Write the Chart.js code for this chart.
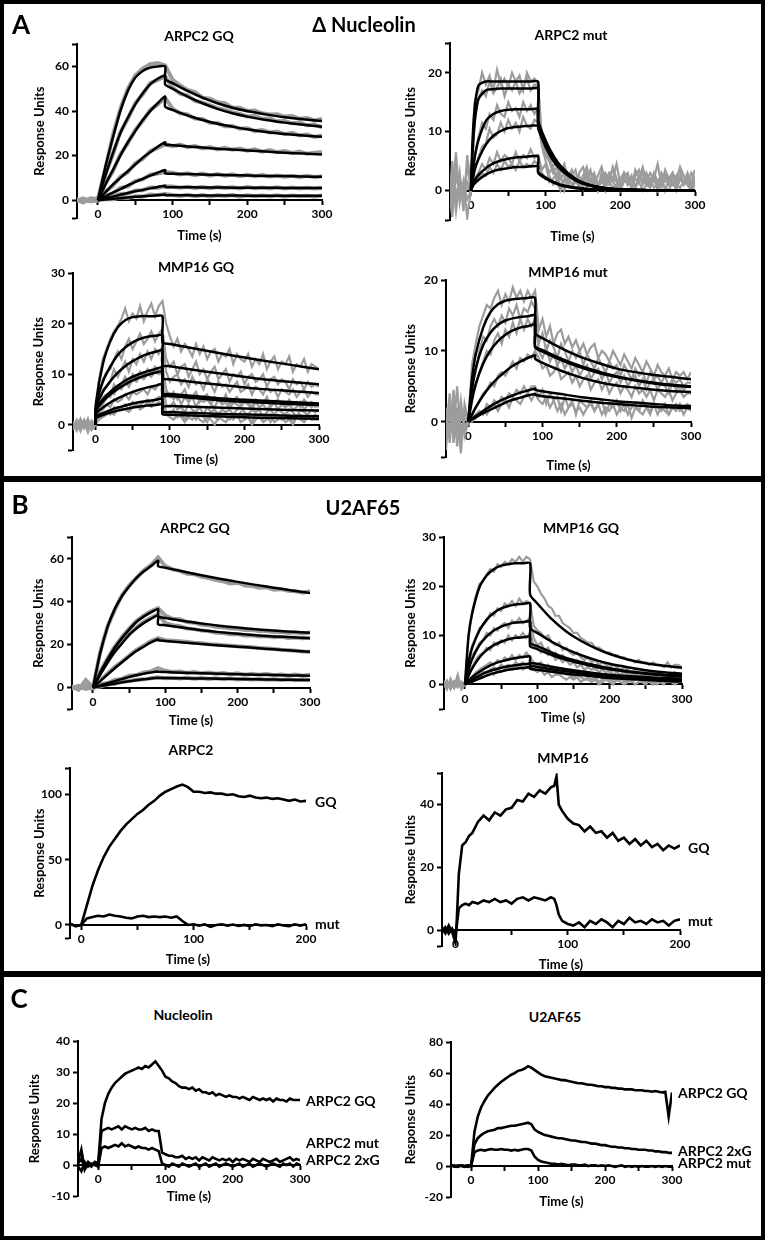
<!DOCTYPE html>
<html>
<head>
<meta charset="utf-8">
<script src="https://cdn.jsdelivr.net/npm/chart.js@4.4.0/dist/chart.umd.min.js"></script>
<style>
  body { margin: 0; background: #fff; }
  #fig { position: relative; width: 765px; height: 1240px; overflow: hidden; font-family: Lato, sans-serif; }
  .frame { position: absolute; left: 0; top: 0; width: 765px; height: 1240px; box-sizing: border-box; border: 4px solid #000; }
  .sep { position: absolute; left: 0; width: 765px; height: 6px; background: #000; }
  .lbl { position: absolute; font-weight: 700; color: #000; white-space: nowrap; line-height: 1; transform: translate(-50%, -50%); }
  canvas { position: absolute; }
</style>
</head>
<body>
<div id="fig">
  <div class="frame"></div>
  <div class="sep" style="top:476px"></div>
  <div class="sep" style="top:971px"></div>
</div>
<script>
// ---- data -------------------------------------------------------------
// sampling grids (s)
const t10 = [-30,-20,-10,0,10,20,30,40,50,60,70,80,90,100,110,120,130,140,150,160,170,180,190,200,210,220,230,240,250,260,270,280,290,300];
const t5 = [-30,-25,-20,-15,-10,-5,0,5,10,15,20,25,30,35,40,45,50,55,60,65,70,75,80,85,90,95,100,105,110,115,120,125,130,135,140,145,150,155,160,165,170,175,180,185,190,195,200,205,210,215,220,225,230,235,240,245,250,255,260,265,270,275,280,285,290,295,300];

// A  ΔNucleolin - ARPC2 GQ
const a1FitT = [0,10,20,30,40,50,60,70,80,90,90,100,120,140,160,180,200,225,250,275,300];
const a1Fit = [
  [0,15,28,40,49,55,58,59.5,60,60, 54.5,52.5,49,46,43.5,41.5,40,38.5,37.2,36.3,35.5],
  [0,11,21,30,37,43,48,52,54.5,56, 52,50,46.5,43.5,41,39,37.5,36,34.8,33.8,33],
  [0,7,13.5,20,26,31,36,40,43.5,46.5, 42,40.5,38,36,34.3,33,31.8,30.6,29.7,29,28.5],
  [0,3.5,7,10,13,16,19,21.5,24,26, 25,24.7,24.1,23.6,23.1,22.7,22.3,21.8,21.3,20.9,20.5],
  [0,1.7,3.4,5,6.6,8.2,9.6,11,12.3,13.5, 12,11.9,11.7,11.5,11.4,11.2,11.1,10.9,10.8,10.6,10.5],
  [0,0.8,1.6,2.4,3.2,4,4.6,5.3,5.9,6.5, 5.9,5.8,5.8,5.7,5.7,5.6,5.6,5.6,5.5,5.5,5.5],
  [0,0.3,0.6,0.9,1.2,1.5,1.8,2,2.3,2.5, 2.2,2.2,2.2,2.1,2.1,2.1,2,2,2,2,2]
];
const a1Grey = [
  [0.5,-1,0.8, 0.5,14,29,41,50,56,59,61,61.5,60.5, 54,51.5,49.5,48.5,46,45.5,44,43.5,41.5,41.5,40,40.2,39,38.5,38.6,37.5,37.8,36.5,36.9,35.8,36.5],
  [-0.5,0.8,-0.6, 0.3,11.5,20.5,30.5,36.5,43.5,47.5,52.5,54,55.5, 50.5,47.8,47,44.6,43.8,42.7,41.3,40.6,39.4,38.7,37.6,37.8,36.5,36.6,35.4,35.5,34.5,34.8,33.6,33.9,32.8],
  [0.3,-0.4,0.6, 0.2,7.5,13,20.5,25.5,31.5,35.5,40.5,43,46, 41,39,38.5,36.6,36.4,34.7,34.6,33.2,33.3,32.1,32.3,31,31.5,30.4,30.8,29.6,30.2,29,29.5,28.4,29],
  [-0.3,0.5,-0.2, 0,3.8,6.5,10.5,12.5,16.5,18.5,22,23.5,25, 24.2,24.9,23.8,24.3,23.2,23.8,22.8,23.5,22.6,23.2,22.2,22.8,21.8,22.5,21.5,22,21.2,21.8,20.8,21.3,21.5],
  [0.4,-0.5,0.2, 0.1,2,3,5.5,6.2,8.6,9.3,11.4,12,12.6, 12.3,11.5,12.1,11.2,11.9,11,11.7,11,11.6,10.8,11.4,10.7,11.3,10.6,11.1,10.5,11,10.4,10.9,10.3,10.8],
  [-0.2,0.3,-0.4, 0,1.1,1.4,2.8,3,4.4,4.5,5.7,5.6,6.2, 6.1,5.6,6,5.5,5.9,5.4,5.9,5.5,5.8,5.3,5.9,5.4,5.7,5.3,5.8,5.2,5.7,5.3,5.6,5.2,5.6],
  [0.2,-0.3,0.3, 0,0.5,0.4,1.2,1,1.8,1.6,2.5,2.2,2.8, 2.3,1.9,2.4,1.8,2.3,1.7,2.2,1.9,2.3,1.6,2.2,1.8,2.1,1.7,2.2,1.6,2.1,1.8,2,1.6,2.1]
];

// A  ΔNucleolin - ARPC2 mut
const a2FitT = [0,2,5,10,20,30,40,50,60,70,80,90,90,100,110,120,140,160,180,200,250,300];
const a2Fit = [
  [0,8,14,17.8,18.5,18.5,18.5,18.5,18.5,18.5,18.5,18.5, 12,8.5,6,4.2,2,0.9,0.4,0.2,0,0],
  [0,6,11.5,15.5,17,17.2,17.3,17.3,17.3,17.3,17.3,17.3, 11.5,8.1,5.7,4,1.9,0.9,0.4,0.2,0,0],
  [0,2.5,5.5,8.5,11.8,13,13.5,13.7,13.8,13.8,13.8,13.8, 11,7.8,5.4,3.8,1.8,0.8,0.4,0.2,0,0],
  [0,1.5,3.5,5.3,7.8,9.3,10.1,10.6,10.8,10.9,11,11, 10.5,7.4,5.1,3.6,1.7,0.8,0.4,0.2,0,0],
  [0,0.8,1.7,2.6,3.8,4.6,5.1,5.4,5.6,5.7,5.8,5.8, 3.2,2.2,1.5,1,0.5,0.2,0.1,0,0,0],
  [0,0.6,1.2,1.8,2.7,3.3,3.6,3.8,4,4,4.1,4.1, 3,2,1.4,0.9,0.4,0.2,0.1,0,0,0]
];
const a2Grey = [
  [-4,5,-2,3,-3.5,6,1,
   15,17,20,18,19.5,17,20.5,18,19,17.5,20,18.5,19.5,17,20,18.5,19,18,
   9,7,5.5,4,5,3,4.5,2,3.5,1.5, 3,4,2,3.5,1,2.5,4,1.5,3,2, 4.5,1,3,2.5,0.5,3.5,2,4,1.5,3, 2,4.5,1,3.5,2,3,1.5,4,2.5,1, 3,2],
  [2,-1,6.5,-2,1.5,-4.5,0,
   12,15.5,17,16,18.5,16.5,17.5,19,16,18,17,18.5,16.5,17.5,19,17,18,17.5,
   8.5,6,5,3.5,2,4,2.5,1,3,2, 0.5,2.5,4,1.5,3,1,2,0,2.5,3.5, 1.5,0.5,3,2,1,2.5,3.5,1,2,0.5, 3,1.5,2.5,0,2,3,1,2.5,1.5,3, 1,2],
  [-1.5,3,-3.5,2,-1,4,0.5,
   6,9,11.5,10.5,13,12,14.5,13,12.5,15,13.5,14,12.5,15,13.5,14.5,13,14,
   8,6,5,3,4,2,3,1,2.5,3.5, 0.5,2,1,3,2.5,0,2,3,1.5,4, 2,1,2.5,3,0.5,2,1.5,3,1,2, 2.5,0.5,3,1.5,2,1,2.5,3.5,1,2, 1.5,3.5],
  [0.5,-2,2.5,-0.5,1,-1.5,0,
   3.5,5.5,7.5,8,10.5,9,9.5,11.5,10,12,10.5,11.5,10,12.5,11,10.5,12,11.5,
   7.5,5,3,4,1.5,2.5,0,2,3,1.5, 2.5,0.5,3.5,1.5,2,0.5,3,1,2.5,1.5, 0.5,2,3,1,2,0.5,2.5,1.5,3,1, 2,0,1.5,3,1,2.5,0.5,2,1.5,2.5, 0.5,2],
  [1,-4.5,3,0.5,-2,1.5,0,
   2,3,4.5,3.5,5.5,4.5,6.5,5,6,5.5,4.5,6.5,5,6,5.5,7,5.5,6,
   3.5,4.5,1.5,2,3,0.5,1.5,2.5,1,2, 0.5,1.5,3,1,2,0.5,1.5,2.5,1,2, 1.5,0,2,1,2.5,0.5,1.5,2,1,0.5, 2,1.5,0.5,2.5,1,1.5,0,2,1,1.5, 0.5,1.5],
  [-2.5,1.5,-1,2,-0.5,0.5,0,
   1.5,2,3,2.5,4,3,4.5,3.5,5,4,4.5,3.5,5,4,4.5,4,5,4.5,
   3,2,2.5,1,1.5,0,2,1,0.5,1.5, 1,2,0.5,1.5,1,0,2,1,1.5,0.5, 1,0,1.5,2,0.5,1,1.5,0,1,2, 0.5,1,1.5,0.5,0,1.5,1,0.5,1.5,1, 0,1]
];

// A  ΔNucleolin - MMP16 GQ
const a3FitT = [0,1,10,20,30,40,50,60,70,80,90,90,100,140,180,220,260,300];
const a3Fit = [
  [0,4.5,12,16.5,19.3,20.7,21.3,21.5,21.5,21.5,21.5, 16.3,16,14.9,13.8,12.8,11.9,11],
  [0,4,8.5,11.5,13.8,15.3,16.3,17,17.4,17.6,17.7, 11.8,11.6,10.7,9.9,9.1,8.5,8],
  [0,3.5,6.5,8.6,10.3,11.6,12.6,13.4,14,14.4,14.7, 9.2,9,8.3,7.7,7.1,6.7,6.3],
  [0,3,5,6.5,7.7,8.7,9.5,10.1,10.6,11,11.3, 6.2,6.1,5.6,5.1,4.8,4.5,4.2],
  [0,2.8,4.6,6,7.1,8,8.8,9.4,9.9,10.3,10.5, 5.8,5.7,5.2,4.7,4.4,4.1,3.9],
  [0,2.2,3.4,4.4,5.2,5.9,6.5,7,7.4,7.7,8, 3.8,3.7,3.5,3.3,3.1,2.9,2.8],
  [0,1.6,2.3,2.9,3.4,3.8,4.2,4.5,4.7,4.9,5.1, 2.6,2.5,2.3,2.1,2,1.8,1.7],
  [0,1.3,1.9,2.4,2.8,3.1,3.4,3.6,3.8,3.9,4, 2.1,2,1.8,1.6,1.4,1.3,1.2]
];
const a3Grey = [
  [0.5,-0.8,1,-0.5,1.2,-1,0,
   9,13,15,17,18.5,19.5,21,23,20.5,22,21,23.5,20.5,22.5,24,21.5,23.5,24.5,
   20,17.5,15.5,17,14.5,16,15,13.5,16,14, 15.5,13,14.5,15,12.5,14,13.5,15,12,14, 13,12.5,14,11.5,13,12,14,11,12.5,13.5, 11,12.5,12,13.5,10.5,12,11.5,13,10.5,12, 11.5,11],
  [-0.5,1,-1,0.5,-1.5,0.8,0,
   6,9,10.5,11,13,14.5,13,15.5,17,15,16.5,18,16,17,18.5,16.5,18,19,
   13,11.5,12.5,10,11.5,12,9.5,11,12.5,10, 11,9,10.5,11.5,9,10,11,8.5,10,9.5, 10.5,8,9.5,10,8.5,9,10,7.5,9,9.5, 8,9,8.5,7,9,8,8.5,7,8.5,7.5, 8,7.5],
  [0.3,-1.2,0.6,-0.3,0.9,-0.6,0,
   5,7,7.5,8.5,11,9.5,11,12.5,10.5,13,12,14,12.5,14.5,13,15,14,15.5,
   10.5,8.5,9.5,10,8,9,7.5,9.5,8,8.5, 7,9,8,6.5,8.5,7.5,8,6.5,7.5,8.5, 6.5,7,8,6,7.5,7,6,7.5,6.5,7, 5.5,7,6.5,6,7,5.5,6.5,7,5.5,6.5, 6,6],
  [-1,0.8,-0.4,1,-0.8,0.5,0,
   4,5.5,6,5.5,8,7,8,9.5,8,10,9,10.5,9.5,11,10,11.5,10.5,11.5,
   7,5.5,6.5,5,6,7,4.5,5.5,6.5,4.5, 5.5,6,4,5.5,5,4.5,6,4,5,5.5, 4,5,4.5,3.5,5,4.5,4,5.5,3.5,4.5, 5,4,3.5,5,4,4.5,3.5,5,4,4.5, 3.5,4],
  [0.6,-0.3,1.2,-0.7,0.4,-1,0,
   3.5,4,5.5,6.5,6,7.5,7,8.5,7.5,9,8.5,9.5,9,10,9.5,10.5,10,10.5,
   6.5,6,5,6,4,5.5,4.5,5.5,3.5,5, 4.5,5,4,3.5,5,4,4.5,3,4.5,4, 3.5,4.5,4,3,4.5,3.5,4,3,4,4.5, 3,4,3.5,4,3,3.5,4.5,3,4,3.5, 4,3.5],
  [-0.6,0.4,-1.3,0.8,-0.2,0.6,0,
   2.5,3,4,3.5,5,4.5,5,6,5,6.5,6,6.5,7,6,7.5,7,8,8,
   4,3.5,4.5,3,3.5,2.5,4,3,2.5,3.5, 2,3.5,2.5,3,2,3,2.5,3,2,3, 3.5,2.5,2,3,2.5,3,1.5,2.5,3,2, 3,2.5,2,3,2.5,1.5,3,2.5,2,3, 2.5,3],
  [0.2,-0.6,0.5,-0.4,0.7,-0.2,0,
   1.5,2,2.5,2,3.5,3,3.5,4,3,4.5,3.5,4,4.5,5,4,5,5.5,5.5,
   2.5,2,3,1.5,2.5,1,2,2.5,1,2, 1.5,0.5,2,1.5,1,2,1.5,1,2,1.5, 2.5,1,1.5,0.5,2,1.5,1,2,0.5,1.5, 2,1,1.5,2,0.5,1.5,2,1,1.5,1, 2,1.5],
  [-0.4,0.7,-0.2,0.5,-0.8,0.3,0,
   1,1.5,2,2.5,2,3,3.5,3,2.5,3.5,4,3,3.5,4.5,3.5,4,4.5,4,
   2,1.5,1,2,1.5,0.5,1.5,1,2,1, 0.5,1.5,1,0,1.5,1,0.5,1.5,1,2, 0.5,1,1.5,0,1,1.5,0.5,1,2,0.5, 1,1.5,0.5,1,0,1.5,1,0.5,1.5,1, 1,1]
];

// A  ΔNucleolin - MMP16 mut
const a4FitT = [0,5,10,20,30,40,50,60,70,80,90,90,100,125,150,175,200,225,250,275,300];
const a4Fit = [
  [0,6,9.5,13.3,15.5,16.6,17.1,17.3,17.4,17.5,17.5, 12.5,11.8,10.4,9.2,8.3,7.5,7,6.6,6.3,6],
  [0,4.5,7.5,10.8,12.6,13.7,14.3,14.6,14.8,14.9,15, 10.7,10.1,8.9,7.9,7.1,6.4,5.9,5.5,5.2,5],
  [0,3,5.3,8.2,10.1,11.4,12.3,12.9,13.3,13.5,13.7, 10.5,9.9,8.7,7.7,6.9,6.3,5.8,5.4,5.1,4.9],
  [0,1,2,3.7,5.1,6.2,7.1,7.9,8.5,9,9.4, 8.9,8.3,7.2,6.3,5.6,5.1,4.8,4.5,4.3,4.2],
  [0,0.4,0.8,1.5,2.2,2.8,3.3,3.7,4.1,4.4,4.7, 4.5,4.3,3.9,3.5,3.2,2.9,2.7,2.5,2.3,2.2],
  [0,0.3,0.6,1.2,1.7,2.2,2.7,3.1,3.4,3.7,3.9, 3.8,3.6,3.3,3,2.7,2.5,2.3,2.1,2,1.9]
];
const a4Grey = [
  [2,-3,4.5,-1,3,-2,0,
   8,11,13.5,15,16.5,16,17.5,18.5,16.5,18,17,19,17.5,18.5,17,18.5,17.5,18.5,
   13,14.5,12,13.5,11,12.5,13,11,12,10.5, 11.5,10,11,9.5,10.5,11,9,10,9.5,8.5, 10,9,8,9.5,8.5,7.5,9,8,7,8.5, 7.5,6.5,8,7,6.5,7.5,6,7,6.5,7, 6,7],
  [-4,3,-1.5,5,-2.5,1.5,0,
   5,7,10,12,11.5,13.5,14.5,13.5,15,14,16,15,16.5,14.5,16,15.5,17,16,
   11,12.5,10,11.5,10.5,9,11,10,8.5,10, 9,10,8,9.5,8.5,7.5,9,8,7,8.5, 7.5,8,6.5,8,7,6,7.5,6.5,7,5.5, 7,6,6.5,5.5,6.5,5,6,5.5,6,5, 5.5,5.5],
  [1,-2,2.5,-3.5,1.5,-1,0,
   3.5,5,7,8.5,10,9.5,11.5,12.5,11,13,12,14,12.5,14.5,13,14.5,13.5,14.5,
   10,9,10.5,8.5,9.5,8,9,7.5,8.5,7, 8,6.5,7.5,8,6,7,7.5,6,7,5.5, 6.5,7,5.5,6.5,5,6,6.5,5,6,4.5, 5.5,6,4.5,5.5,5,4,5.5,4.5,5,4.5, 5,5],
  [-1.5,4,-3,2,-4.5,2.5,0,
   1,2,3,4,4.5,5.5,5,6.5,7,6.5,7.5,8.5,7.5,9,8.5,9.5,9,10,
   9,7.5,8,6.5,7,8,6,6.5,7,5.5, 6.5,5,6,6.5,4.5,5.5,6,4.5,5.5,4, 5,5.5,4,5,4.5,3.5,5,4,4.5,3.5, 4.5,3,4.5,4,3.5,4.5,3,4,4.5,3.5, 4,4],
  [0.5,-1,1.5,-2,1,-0.5,0,
   0.5,1,1.5,1,2.5,2,3,2.5,3.5,3,4,3.5,4.5,4,5,4,5,5,
   3.5,4.5,2.5,4,3,3.5,1.5,3.5,2,3, 1,3,2.5,2,3,1.5,2.5,3,1,2.5, 2,3,1.5,2.5,1,2,2.5,1.5,3,2, 1,2.5,2,1.5,2.5,1,2,2.5,1.5,2, 2.5,2],
  [-2,1,-0.5,1.5,-1,0.5,0,
   0,0.5,1,1.5,1,2,2.5,1.5,2.5,3,2,3.5,3,2.5,3.5,4,3,4,
   3,2.5,3.5,2,3,1.5,2.5,1,2,2.5, 1.5,2,1,2,2.5,1.5,2.5,1,2,1.5, 2.5,1,2,1.5,2.5,0.5,2,1.5,1,2, 1.5,2.5,1,2,1.5,1,2,1.5,2.5,1, 2,1.5]
];

// B  U2AF65 - ARPC2 GQ
const b1FitT = [0,10,20,30,40,50,60,70,80,90,90,100,125,150,175,200,225,250,275,300];
const b1Fit = [
  [0,16,28,36.5,42.5,47,51,54,56.5,59, 56.5,55.8,54,52.3,50.7,49.2,47.8,46.5,45.2,44],
  [0,7,13,18.5,23,27,30.5,33,35,36.5, 33,32.4,31,29.8,28.8,27.9,27.1,26.5,26,25.5],
  [0,6,11.5,16.5,20.5,24.5,27.5,30,32,33.5, 29.5,29,27.8,26.7,25.8,25,24.3,23.8,23.4,23],
  [0,3,6,9,11.8,14.5,17,19,21,22.5, 22,21.7,21,20.3,19.6,19,18.4,17.8,17.2,16.6],
  [0,1,2,3,4,4.9,5.7,6.4,7,7.5, 7.3,7.2,6.9,6.6,6.4,6.2,6,5.8,5.6,5.5],
  [0,0.6,1.2,1.8,2.4,2.9,3.4,3.8,4.2,4.5, 4.4,4.4,4.3,4.2,4.1,4,3.8,3.7,3.6,3.5]
];
const b1Grey = [
  [0.5,-1,3.5, 0,16.5,28.5,36,43,47.5,51,54.5,57,60.5, 56.5,55,54.3,53,52.8,51.5,51,50,49.5,48.5,48.8,47.5,47.3,46.5,46.7,45.5,45.8,45,44.8,44.2,44.8],
  [-0.5,0.8,-0.3, 0,7.5,13.5,19,23.5,27.5,31,33.5,35.5,37, 33.5,32,31.8,30.5,30.2,29.2,29,28.3,28,27.5,27.4,26.8,26.9,26.2,26.4,25.8,26,25.4,25.7,25.2,25.6],
  [0.3,-0.6,0.8, 0,6.5,12,17,21,25,28,30.5,32.5,34, 30,29,28.5,27.5,27.2,26.5,26.3,25.5,25.4,24.8,24.9,24.2,24.3,23.8,24,23.4,23.6,23.1,23.3,22.9,23.2],
  [-0.2,0.4,-0.5, 0,3.2,6.5,9.5,12,14.8,17.5,19.5,21.5,23, 22,21.8,21.5,21.2,20.8,20.6,20.2,20,19.7,19.5,19.2,19,18.7,18.4,18.2,17.9,17.6,17.4,17.1,16.8,16.7],
  [0.4,-0.3,0.2, 0,1.5,2,3.5,4,5.5,5.8,7,7.5,9, 7.8,7.2,7.5,6.8,7.2,6.6,7,6.4,6.8,6.2,6.6,6,6.4,5.9,6.3,5.7,6.1,5.6,6,5.5,5.9],
  [-0.3,0.2,-0.4, 0,0.5,1.5,1.8,2.6,3,3.6,3.8,4.3,4.8, 4.3,4.6,4.2,4.5,4.1,4.4,4,4.3,3.9,4.2,3.8,4.1,3.7,4,3.6,3.9,3.5,3.8,3.4,3.7,3.5]
];

// B  U2AF65 - MMP16 GQ
const b2FitT = [0,5,10,20,30,40,50,60,70,80,90,90,100,120,140,160,180,200,225,250,275,300];
const b2Fit = [
  [0,10,14.5,19.8,22.2,23.5,24.2,24.5,24.7,24.7,24.7, 18.3,16.5,13.3,10.8,8.9,7.4,6.2,5.1,4.3,3.8,3.4],
  [0,4.5,7.5,11,13.2,14.6,15.5,16,16.3,16.4,16.5, 11.5,10.5,8.7,7.2,6,5,4.2,3.5,2.9,2.5,2.2],
  [0,3,5.2,8,9.8,11,11.8,12.3,12.6,12.7,12.8, 8.5,7.8,6.5,5.4,4.6,3.9,3.3,2.7,2.3,2,1.8],
  [0,1.8,3.3,5.5,7,8,8.7,9.2,9.5,9.6,9.7, 7.8,7.2,6,5,4.3,3.6,3.1,2.6,2.2,1.9,1.7],
  [0,0.8,1.5,2.6,3.5,4.2,4.7,5.1,5.4,5.6,5.7, 4.5,4.2,3.6,3.1,2.7,2.3,2,1.7,1.5,1.3,1.2],
  [0,0.5,1,1.8,2.5,3,3.4,3.7,3.9,4.1,4.2, 3.8,3.6,3.1,2.7,2.3,2,1.7,1.4,1.2,1,0.9],
  [0,0.3,0.6,1.2,1.8,2.3,2.7,3,3.2,3.4,3.5, 3.2,3,2.6,2.2,1.9,1.6,1.3,1.1,0.9,0.7,0.6]
];
const b2Grey = [
  [0.5,-1,1.2,-0.5,2,-1,0,
   10,15,18,20.5,21,22.5,23.5,23,24.5,24,25,24.5,25.5,25,26,25,26,25.5,
   21,20,18.5,17.5,16,15.5,14,14,12.5,12, 11.5,10.5,10.5,9.5,9,8.5,8.5,7.5,7.5,7, 6.5,6.5,6,6,5.5,5.5,5,5,4.5,5, 4.5,4.5,4,4.5,4,4,3.5,4.5,3.5,4, 4,3.5],
  [-0.5,0.8,-1,0.5,-0.3,0.6,0,
   5,8,9.5,11.5,12,13,14.5,14,15.5,15,16.5,16,17,16,17.5,16.5,17,16.5,
   12,11,10.5,9.5,10,8.5,8,8.5,7,7.5, 6.5,6,6.5,5.5,5,5.5,4.5,5,4,4.5, 4,3.5,4,3.5,3,3.5,3,2.5,3,2.5, 3,2.5,2,2.5,2,2.5,2,1.5,2,2.5, 2,2],
  [0.8,-0.5,0.3,-0.8,0.5,-0.2,0,
   3.5,6,7,8.5,9,10.5,10,11.5,11,12,12.5,11.5,13,12.5,13.5,12.5,13,13.5,
   9.5,8,8.5,7,7.5,6,6.5,5.5,6,5, 5,4.5,5,4,4.5,3.5,4,3,3.5,3, 3.5,2.5,3,2.5,3,2,2.5,2,2.5,1.5, 2.5,2,1.5,2,1.5,2,1.5,1,2,1.5, 2,1.5],
  [-0.3,0.5,-0.8,0.4,-0.6,0.3,0,
   2,3.5,5,6,6.5,7.5,7,8.5,8,9,8.5,10,9,10,9.5,10.5,9.5,10.5,
   8,7.5,6.5,7,6,6.5,5,5.5,4.5,5, 4,4.5,3.5,4,3,3.5,3,3.5,2.5,3, 2.5,3,2,2.5,2,2.5,2,1.5,2,1.5, 2,1.5,2,1,1.5,2,1.5,1,1.5,2, 1.5,2],
  [0.3,-0.8,0.6,-0.4,1,-0.5,0,
   1,1.5,2.5,3,3.5,4,4.5,4,5,4.5,5.5,5,6,5,6,5.5,6.5,5.5,
   4.5,4,4.5,3.5,4,3,3.5,2.5,3,2.5, 3,2,2.5,2,2.5,1.5,2,1.5,2,1, 1.5,2,1,1.5,1,1.5,0.5,1.5,1,1.5, 1,0.5,1.5,1,0.5,1,1.5,0.5,1,1, 1.5,1],
  [-0.6,0.4,-0.2,0.7,-0.4,0.2,0,
   0.5,1,1.5,2,2.5,2.5,3,3.5,3,4,3.5,4,3.5,4.5,4,4.5,4,4.5,
   4,3.5,3,3.5,2.5,3,2.5,2,2.5,2, 2,1.5,2,1.5,1,1.5,1,1.5,0.5,1, 1.5,1,0.5,1,1.5,0.5,1,0.5,1,1.5, 0.5,1,0.5,0,1,0.5,1,0.5,1,0.5, 1,0.5],
  [0.2,-0.3,0.7,-0.5,0.4,-0.1,0,
   0.3,0.5,1,1.5,1.5,2,2.5,2,3,2.5,3,3.5,3,3.5,4,3,3.5,3.5,
   3,2.5,3,2,2.5,1.5,2,2,1.5,1, 1.5,1,1.5,0.5,1,1,0.5,1,0,0.5, 1,0.5,0,1,0.5,0,0.5,1,0,0.5, 0.5,0,1,0.5,0,0.5,0,1,0.5,0, 0.5,0.5]
];

// B  U2AF65 - ARPC2 (GQ vs mut)
const b3T = [-10,-5,0,5,10,15,20,25,30,35,40,45,50,55,60,65,70,75,80,85,90,95,100,105,110,115,120,125,130,135,140,145,150,155,160,165,170,175,180,185,190,195,200];
const b3GQ = [1,-1,0, 15,30,42,52,60,66,72,77,81,85,88,92,95,99,102,104,106,107.5, 105.5,102,102,101,101.5,100.5,100.5,99.5,100,98.5,98,99,97.5,97,97.5,96.5,97,96,95,96,94.5,95];
const b3Mut = [1,-1,0, 5,6,7,6.5,8,7,6.5,5.5,5,6.5,7,6,6.5,6,6.5,5.5,6.5,3, 0,0.5,-0.5,0.5,-1.5,0,0.5,-0.5,0.3,-0.8,0,-1,0.5,-0.3,0,-1,0.5,-0.5,-1,0.5,-0.5,0.5];

// B  U2AF65 - MMP16 (GQ vs mut)
const b4T = [-12,-9,-6,-3,0,1,3,6,9,12,15,20,25,30,35,40,45,50,55,60,65,70,75,80,85,88,90,92,95,100,105,110,115,120,125,130,135,140,145,150,155,160,165,170,175,180,185,190,195,200];
const b4GQ = [0.5,-1,1.5,-0.5, -4,2,18,27,28,30,31, 34.5,36.5,35,37.5,36.5,38.5,39,41.5,41,43.5,42.5,44.5,43.5,45.5, 46,49,40,38, 35.5,34,33.5,31.5,33,31,31.5,29.5,31,28.5,29.5,27.5,29,27,28.5,26.5,27.5,25.5,27,26,27];
const b4Mut = [0,1,-1,0.5, -2,1,7,8,8.5,8,9, 8.5,9.5,9,10,9,9.5,8.5,10,10.5,9.5,10.5,10,9.5,10.5, 10,8,5,3, 2,1.5,2.5,1,3,2,3.5,2.5,1,3,2,4,2.5,3,2,3.5,2.5,3,1.5,3,3.5];

// C  Nucleolin / U2AF65 binding to ARPC2 variants (sampled on t5)
const c1GQ = [1,5,-1.5,0.5,-0.5,1,0.5,
  15,20,23,25,26.5,27.5,28.5,29.5,30,30.5, 31,31.5,31,32,31.5,32.5,33.5,32,30.5,28.5,
  28,27,26.5,25.5,25,25,24.5,25,24,24.5, 23.5,23.5,23,23.5,22.5,23,22.5,22,22.5,22,
  22,21.5,22,21.5,21,22,21.5,21,21.5,21, 21.5,20.5,21.5,21,21,20.5,21.5,21,21,21];
const c1Mut = [0.5,2,-1,1,0,0.5,0,
  11,11.5,12,11.5,12,12.5,11.5,12.5,12,11.5, 12,11.5,11.5,12,11,11.5,11,11,4,3.5,
  3,3,2.5,2.5,3,2,2.5,2,2.5,1.5, 2.5,2,1.5,2.5,2,1.5,2,1.5,2,1,
  2,1.5,2,1.5,1,2,1.5,1,2,1.5, 1,1.5,2,1,1.5,2,2.5,1.5,2,1.5];
const c1TwoXG = [-0.5,-2,1,-0.5,0.5,0,-0.5,
  5.5,6,5.5,6,6.5,6,7,6,6.5,6, 5.5,6,5.5,5.5,5,5.5,5,4.5,0.5,0,
  -0.5,0.5,0,-0.5,0.5,0,-0.5,0,0.5,-0.5, 0,0.5,-0.5,0,0.5,-0.5,0,0.5,0,-0.5,
  0,0.5,-0.5,0,0.5,-0.5,0,0.5,0,-0.5, 0,0.5,0,-0.5,0.5,0,0.5,-0.5,0.5,0];
const c2GQ = [0.5,-0.5,0.5,0,-0.5,0.5,0,
  22,32,38,42,45.5,48,50.5,52.5,54.5,56, 57.5,59,60,61.5,62,63,64.5,63.5,62,60.5,
  59,58,57.5,57,56.5,56,55.5,55.5,55,54.5, 54,53.5,53.5,53,52.5,52.5,52,51.5,51.5,51,
  51,50.5,50.5,50,50,49.5,49.5,49.5,49,49, 49,48.5,48.5,48,48.5,48,47.5,48,32,47.5];
const c2TwoXG = [0,0.5,-0.5,0.5,0,-0.5,0,
  14,18,20,21.5,22.5,23,23.5,24.5,24.5,25, 25.5,26,26,26.5,27,27.5,28,27,23.5,22,
  21,20,19.5,19,18.5,18,18,17.5,17,16.5, 16.5,16,15.5,15.5,15,14.5,14.5,14,13.5,13.5,
  13,12.5,12.5,12,12,11.5,11.5,11,11,10.5, 10.5,10.5,10,10,9.5,9.5,9,9,8.5,8.5];
const c2Mut = [0.5,0,-0.5,0.5,0,0.5,0,
  9,10,10.5,10,10.5,11,10.5,10.5,11,10.5, 10.5,10,10.5,10,10.5,11,11,10,6,4,
  3,2.5,2,1.5,1.5,1,1.5,1,0.5,1, 1,0.5,0.5,1,0,0.5,0.5,0,0.5,0,
  0.5,0,-0.5,0,0.5,-0.5,0,-0.5,0,-0.5, 0,-0.5,-0.5,0,-0.5,0,-0.5,0,-0.5,-0.5];

// ---- drawing ----------------------------------------------------------
Chart.defaults.font.family = 'Lato, sans-serif';
Chart.defaults.color = '#000';

const fig = document.getElementById('fig');
const tickFont = { size: 12, weight: 'bold' };
const axisFont = { size: 13, weight: 'bold' };

const pts = (t, v) => v.map((y, i) => ({ x: t[i], y }));
const fitSets = (t, list) => list.map(v => ({ data: pts(t, v), borderColor: '#000', borderWidth: 2.5, tension: 0.25, order: 1 }));
const greySets = (t, list, w) => list.map(v => ({ data: pts(t, v), borderColor: '#9c9c9c', borderWidth: w || 2.2, tension: 0, order: 2 }));
const traceSets = (t, list) => list.map(v => ({ data: pts(t, v), borderColor: '#000', borderWidth: 2.6, tension: 0, order: 1 }));

// text written next to the end of a trace
const endLabels = {
    id: 'endLabels',
    afterDatasetsDraw(chart, args, opts) {
        const ctx = chart.ctx;
        ctx.save();
        ctx.font = 'bold 14px Lato, sans-serif';
        ctx.fillStyle = '#000';
        ctx.textBaseline = 'middle';
        (opts.items || []).forEach(it => {
            const pts = chart.getDatasetMeta(it.ds).data;
            const p = pts[pts.length - 1];
            ctx.fillText(it.text, p.x + it.dx, p.y + it.dy);
        });
        ctx.restore();
    }
};

function panel(g, datasets, labels) {
    const padR = g.padR || 14;
    const L = Math.round(g.tx - 11.8);
    const T = g.top - 10;
    const W = g.right + padR - L;
    const H = g.bottom + 48 - T;
    const cv = document.createElement('canvas');
    cv.width = W; cv.height = H;
    cv.style.left = L + 'px'; cv.style.top = T + 'px';
    cv.style.width = W + 'px'; cv.style.height = H + 'px';
    fig.appendChild(cv);

    const xTicks = [];
    for (let v = 0; v <= g.x[1]; v += 50) xTicks.push(v);
    const yTicks = [...new Set([g.y[0], ...g.yTicks, g.y[1]])];

    new Chart(cv, {
        type: 'line',
        data: { datasets },
        options: {
            responsive: false,
            animation: false,
            events: [],
            layout: { padding: { top: 10, right: padR, bottom: 48, left: 0 } },
            elements: { point: { radius: 0 } },
            plugins: { legend: { display: false }, tooltip: { enabled: false }, endLabels: { items: labels || [] } },
            scales: {
                x: {
                    type: 'linear', min: g.x[0], max: g.x[1], position: { y: 0 },
                    border: { display: true, color: '#000', width: 2 },
                    grid: { drawOnChartArea: false, drawTicks: true, tickLength: 4, tickWidth: 2, color: '#000' },
                    afterBuildTicks: s => { s.ticks = xTicks.map(v => ({ value: v })); },
                    ticks: { font: tickFont, padding: 3, autoSkip: false, maxRotation: 0,
                             callback: v => (v % 100 === 0 ? v : '') },
                    title: { display: true, text: 'Time (s)', font: axisFont, padding: { top: g.tp, bottom: 0 } }
                },
                y: {
                    type: 'linear', min: g.y[0], max: g.y[1], position: 'left',
                    border: { display: true, color: '#000', width: 2 },
                    grid: { drawOnChartArea: false, drawTicks: true, tickLength: 5, tickWidth: 2, color: '#000' },
                    afterBuildTicks: s => { s.ticks = yTicks.map(v => ({ value: v })); },
                    afterFit: s => { s.width = g.ax - L; },
                    ticks: { font: tickFont, padding: 3, autoSkip: false,
                             callback: v => (g.yTicks.includes(v) ? v : '') },
                    title: { display: true, text: 'Response Units', font: axisFont, padding: { top: 4, bottom: 0 } }
                }
            }
        },
        plugins: [endLabels]
    });
}

panel({ ax: 77, tx: 40, top: 44, bottom: 218, right: 322, x: [-28, 300], y: [-8, 70], yTicks: [0, 20, 40, 60], tp: 3 },
      [...fitSets(a1FitT, a1Fit), ...greySets(t10, a1Grey, 4)]);
panel({ ax: 450, tx: 411, top: 43, bottom: 220, right: 695, x: [-28, 300], y: [-5, 25], yTicks: [0, 10, 20], tp: 14 },
      [...fitSets(a2FitT, a2Fit), ...greySets(t5, a2Grey)]);
panel({ ax: 73, tx: 39, top: 273, bottom: 450, right: 319, x: [-30, 300], y: [-5, 30], yTicks: [0, 10, 20, 30], tp: 3 },
      [...fitSets(a3FitT, a3Fit), ...greySets(t5, a3Grey)]);
panel({ ax: 446, tx: 411, top: 280, bottom: 457, right: 691, x: [-30, 300], y: [-5, 20], yTicks: [0, 10, 20], tp: 12 },
      [...fitSets(a4FitT, a4Fit), ...greySets(t5, a4Grey)]);
panel({ ax: 72, tx: 39, top: 537, bottom: 709, right: 310, x: [-29, 300], y: [-10, 70], yTicks: [0, 20, 40, 60], tp: 1 },
      [...fitSets(b1FitT, b1Fit), ...greySets(t10, b1Grey, 4)]);
panel({ ax: 444, tx: 411, top: 537, bottom: 709, right: 682, x: [-29, 300], y: [-5, 30], yTicks: [0, 10, 20, 30], tp: 1 },
      [...fitSets(b2FitT, b2Fit), ...greySets(t5, b2Grey)]);
panel({ ax: 70, tx: 40, top: 768, bottom: 938, right: 306, x: [-10, 200], y: [-10, 120], yTicks: [0, 50, 100], tp: 3, padR: 45 },
      traceSets(b3T, [b3GQ, b3Mut]),
      [{ ds: 0, text: 'GQ', dx: 9, dy: 1.5 }, { ds: 1, text: 'mut', dx: 9, dy: 0 }]);
panel({ ax: 442, tx: 411, top: 773, bottom: 946, right: 680, x: [-12, 200], y: [-5, 50], yTicks: [0, 20, 40], tp: 2, padR: 45 },
      traceSets(b4T, [b4GQ, b4Mut]),
      [{ ds: 0, text: 'GQ', dx: 8, dy: 3 }, { ds: 1, text: 'mut', dx: 8, dy: 2 }]);
panel({ ax: 78, tx: 35, top: 1041, bottom: 1196, right: 300, x: [-30, 300], y: [-10, 40], yTicks: [-10, 0, 10, 20, 30, 40], tp: 0, padR: 80 },
      traceSets(t5, [c1GQ, c1Mut, c1TwoXG]),
      [{ ds: 0, text: 'ARPC2 GQ', dx: 6, dy: 1 }, { ds: 1, text: 'ARPC2 mut', dx: 6, dy: -17 }, { ds: 2, text: 'ARPC2 2xG', dx: 6, dy: -5 }]);
panel({ ax: 451, tx: 411, top: 1042, bottom: 1197, right: 672, x: [-30, 300], y: [-20, 80], yTicks: [-20, 0, 20, 40, 60, 80], tp: 4, padR: 80 },
      traceSets(t5, [c2GQ, c2TwoXG, c2Mut]),
      [{ ds: 0, text: 'ARPC2 GQ', dx: 6, dy: 1 }, { ds: 1, text: 'ARPC2 2xG', dx: 6, dy: -1 }, { ds: 2, text: 'ARPC2 mut', dx: 6, dy: -3 }]);

// panel letters, headings and sub-plot titles
[
    ['A', 21, 24, 26], ['\u0394 Nucleolin', 364, 24, 20], ['B', 20, 504, 26], ['U2AF65', 363, 507, 20], ['C', 19, 998, 26],
    ['ARPC2 GQ', 199, 36, 14], ['ARPC2 mut', 571, 35, 14], ['MMP16 GQ', 196, 267, 14], ['MMP16 mut', 568, 272, 14],
    ['ARPC2 GQ', 195, 528, 14], ['MMP16 GQ', 581, 528, 14], ['ARPC2', 191, 750, 14], ['MMP16', 563, 758, 14],
    ['Nucleolin', 183, 1015, 14], ['U2AF65', 555, 1017, 14]
].forEach(([text, x, y, size]) => {
    const d = document.createElement('div');
    d.className = 'lbl';
    d.textContent = text;
    d.style.left = x + 'px';
    d.style.top = y + 'px';
    d.style.fontSize = size + 'px';
    fig.appendChild(d);
});
</script>
</body>
</html>
